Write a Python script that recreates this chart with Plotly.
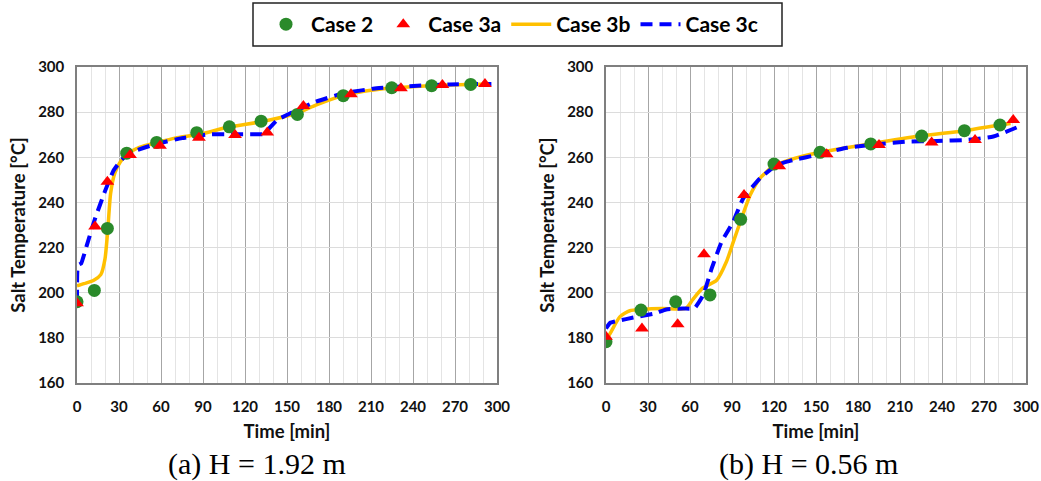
import plotly.graph_objects as go

# ---- (a) H = 1.92 m ----
a_case2_t = [0, 12.4, 21.7, 35.5, 56.9, 85.5, 108.8, 131.5, 157.4, 190.2, 224.8, 253.3, 281.2]
a_case2_T = [196, 201, 228.5, 261.8, 266.6, 270.9, 273.5, 276, 279, 287.3, 290.8, 291.7, 292.3]

a_case3a_t = [0, 12.9, 21.7, 37.9, 59.3, 87.1, 112.9, 135.9, 161.7, 195.7, 231.4, 261, 291.4]
a_case3a_T = [195.3, 229.3, 249.2, 261, 265.1, 268.7, 269.9, 271, 282.7, 287.9, 290.6, 292, 292.5]

a_case3b_t = [0, 5, 12, 17, 20, 22, 24, 27, 31, 36, 45, 57, 70, 88, 109, 132, 157, 171, 190, 205, 225, 245, 265, 295]
a_case3b_T = [203, 204, 205.5, 208, 215, 228, 244, 253, 258, 261.5, 264.5, 266.5, 268.5, 270.2, 273.5, 275.8, 279.5,
              283.2, 287.3, 289.3, 290.7, 291.5, 292, 292.5]

a_case3c_t = [0, 0.3, 1.5, 3, 7, 13, 20, 26, 32, 40, 57, 75, 95, 110, 126, 133, 143, 155, 170, 190, 214, 243, 266, 296]
a_case3c_T = [196, 210, 212.5, 213, 221, 233, 245, 254, 259, 262.5, 266, 268.5, 270.2, 270.2, 270.2, 270.3, 276.5,
              280.3, 284.5, 288.3, 290.6, 291.7, 292.3, 292.5]

# ---- (b) H = 0.56 m ----
b_case2_t = [0, 25, 49.8, 74.3, 96.2, 120, 152.9, 189.1, 225.5, 256, 281.4]
b_case2_T = [178.3, 192.3, 196, 199, 232.5, 257, 262.2, 265.9, 269.4, 271.8, 274.3]

b_case3a_t = [0, 25.7, 51.2, 70, 98.6, 123.8, 157.6, 195, 232.6, 263.6, 290.9]
b_case3a_T = [180.5, 184.2, 186, 217, 243.3, 256, 261.4, 265.4, 266.6, 267.7, 276.5]

b_case3b_t = [0, 3, 10, 17, 26, 40, 57, 62, 69, 79, 86, 91, 96, 103, 110, 119, 131, 153, 189, 225, 256, 281, 289]
b_case3b_T = [179, 182, 189.4, 192, 192.6, 193, 193, 197, 202, 205.5, 213.7, 222.6, 231.5, 243.3, 250.7, 255.8,
              258.8, 262.2, 266, 269.5, 271.8, 274.3, 275]

b_case3c_t = [0, 3, 9, 19.5, 35, 43, 55, 63, 69.5, 75.5, 82.6, 90.9, 98, 110, 122, 131.4, 153, 172, 195.7, 214.8,
              236.2, 257.6, 276.7, 294.5]
b_case3c_T = [184.2, 186.7, 187.6, 189, 190.8, 192.6, 193, 193, 199, 210.8, 222.6, 231.5, 241.8, 250.7, 256.6,
              258.4, 261.4, 264.2, 265.9, 266.9, 267.2, 267.7, 269.2, 273.5]

x_ticks = list(range(0, 301, 30))
y_ticks = list(range(160, 301, 20))

GREEN = "#2a8a2a"
RED = "#ff0000"
YELLOW = "#ffc000"
BLUE = "#0000ff"
FONT = "Lato"

fig = go.Figure()

panels = [
    ("x", "y", a_case2_t, a_case2_T, a_case3a_t, a_case3a_T, a_case3b_t, a_case3b_T, a_case3c_t, a_case3c_T),
    ("x2", "y2", b_case2_t, b_case2_T, b_case3a_t, b_case3a_T, b_case3b_t, b_case3b_T, b_case3c_t, b_case3c_T),
]

for i, (xa, ya, c2t, c2T, c3at, c3aT, c3bt, c3bT, c3ct, c3cT) in enumerate(panels):
    show = i == 0
    fig.add_trace(go.Scatter(x=c3bt, y=c3bT, mode="lines", name="Case 3b", legendrank=3,
                             line=dict(color=YELLOW, width=3.5, shape="spline", smoothing=0.6),
                             xaxis=xa, yaxis=ya, showlegend=show))
    fig.add_trace(go.Scatter(x=c3ct, y=c3cT, mode="lines", name="Case 3c", legendrank=4,
                             line=dict(color=BLUE, width=4, dash="12px,7px", shape="spline", smoothing=0.4),
                             xaxis=xa, yaxis=ya, showlegend=show))
    fig.add_trace(go.Scatter(x=c2t, y=c2T, mode="markers", name="Case 2", legendrank=1,
                             marker=dict(color=GREEN, size=13, symbol="circle"),
                             xaxis=xa, yaxis=ya, showlegend=show))
    fig.add_trace(go.Scatter(x=c3at, y=c3aT, mode="markers", name="Case 3a", legendrank=2,
                             marker=dict(color=RED, size=12, symbol="triangle-up"),
                             xaxis=xa, yaxis=ya, showlegend=show))

y_dom = [1 - 383 / 481, 1 - 67 / 481]
x_doms = [[77 / 1041, 497 / 1041], [606 / 1041, 1026 / 1041]]

tickfont = dict(family=FONT, size=15, color="#111111", weight="bold")
titlefont = dict(family=FONT, size=18.5, color="#111111", weight="bold")

for i, dom in enumerate(x_doms):
    sfx = "" if i == 0 else "2"
    fig.update_layout(**{
        f"xaxis{sfx}": dict(
            domain=dom, range=[0, 300], tickvals=x_ticks, anchor=f"y{sfx}", automargin=False,
            showgrid=True, gridcolor="#a6a6a6", gridwidth=1,
            minor=dict(dtick=10, showgrid=True, gridcolor="#e4e4e4", gridwidth=1),
            showline=True, linecolor="#7f7f7f", linewidth=1.5, mirror=True,
            zeroline=False, ticks="", tickfont=tickfont, ticklabelstandoff=9,
            title=dict(text="Time [min]", font=titlefont, standoff=11),
        ),
        f"yaxis{sfx}": dict(
            domain=y_dom, range=[160, 300], tickvals=y_ticks, anchor=f"x{sfx}", automargin=False,
            showgrid=True, gridcolor="#dcdcdc", gridwidth=1,
            showline=True, linecolor="#7f7f7f", linewidth=1.5, mirror=True,
            zeroline=False, ticks="", tickfont=tickfont, ticklabelstandoff=8,
            title=dict(text="Salt Temperature [°C]", font=titlefont, standoff=8),
        ),
    })

# legend frame
fig.add_shape(type="rect", xref="paper", yref="paper",
              x0=253 / 1041, x1=782 / 1041, y0=1 - 46 / 481, y1=1 - 3 / 481,
              line=dict(color="#222222", width=1.5), fillcolor="rgba(0,0,0,0)")

# panel captions
for txt, xc in [("(a) H = 1.92 m", 257), ("(b) H = 0.56 m", 808)]:
    fig.add_annotation(text=txt, xref="paper", yref="paper", x=xc / 1041, y=1 - 464 / 481,
                       showarrow=False, xanchor="center", yanchor="middle",
                       font=dict(family="Liberation Serif", size=30, color="#000000"))

fig.update_layout(
    width=1041, height=481,
    margin=dict(l=0, r=0, t=0, b=0, autoexpand=False),
    paper_bgcolor="white", plot_bgcolor="white",
    legend=dict(orientation="h", x=512 / 1041, xanchor="center", y=1 - 24.5 / 481, yanchor="middle",
                font=dict(family=FONT, size=21, color="#000000", weight="bold"), bgcolor="rgba(0,0,0,0)",
                itemwidth=40, traceorder="normal"),
    showlegend=True,
)

fig.write_html("out.html")
